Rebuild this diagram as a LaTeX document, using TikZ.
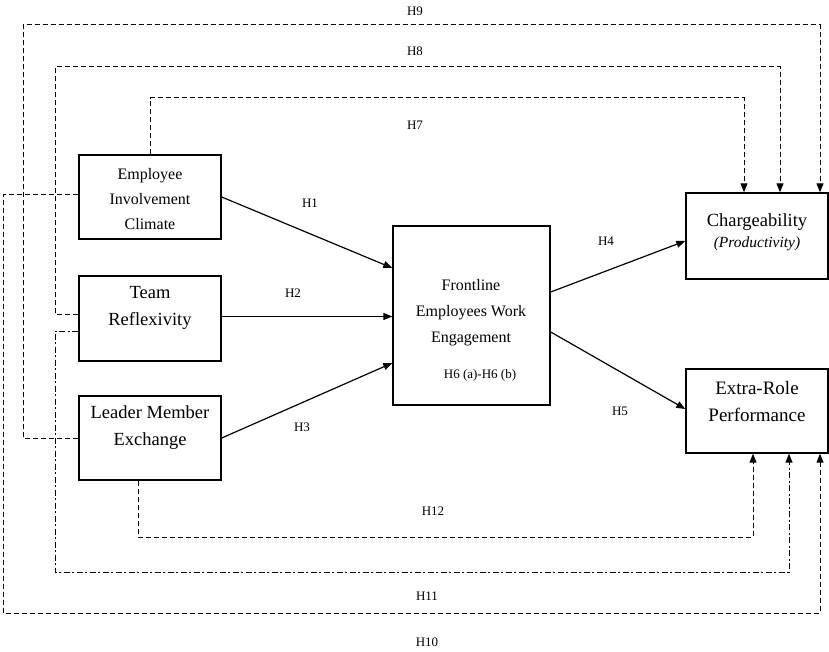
\documentclass[tikz,border=0pt]{standalone}
\usepackage{fontspec}
\setmainfont{Liberation Serif}
\usetikzlibrary{arrows.meta}
\begin{document}
\begin{tikzpicture}[x=1pt,y=-1pt,
  box/.style={draw,line width=1.4pt,minimum width=142pt,minimum height=84pt,inner sep=0pt},
  txt/.style={align=center,font=\fontsize{18.5}{27}\selectfont,inner sep=0pt},
  smalltxt/.style={align=center,font=\fontsize{16}{25}\selectfont,inner sep=0pt},
  hlab/.style={font=\fontsize{13}{15}\selectfont,inner sep=0pt},
  solidarrow/.style={line width=1.2pt,-{Triangle[length=9pt,width=7pt]}},
  dashline/.style={line width=1pt,dash pattern=on 5pt off 3pt,-{Triangle[length=9pt,width=7pt]}},
  dashdotline/.style={line width=1pt,dash pattern=on 6pt off 2.5pt on 2pt off 2.5pt,-{Triangle[length=9pt,width=7pt]}}]
\useasboundingbox (0,0) rectangle (829,652);

% boxes
\node[box] (eic) at (150,197) {};
\node[box,minimum height=85pt] (tr) at (150,318.5) {};
\node[box] (lmx) at (150,438) {};
\node[box,minimum width=157pt,minimum height=179pt] (fewe) at (471.5,315.5) {};
\node[box,minimum height=86pt] (charg) at (757,236) {};
\node[box] (erp) at (757,411) {};

% box texts
\node[smalltxt] (eict) at (150,199) {Employee\\Involvement\\Climate};
\node[txt] (trt) at (150,308) {Team\\Reflexivity};
\node[txt] (lmxt) at (150,428) {Leader Member\\Exchange};
\node[smalltxt,font=\fontsize{16}{26}\selectfont] (fewet) at (471,313) {Frontline\\Employees Work\\Engagement};
\node[txt] (chargt) at (757,222) {Chargeability};
\node[font=\fontsize{15.5}{17}\selectfont\itshape,inner sep=0pt] (prodt) at (757,244) {(Productivity)};
\node[txt,font=\fontsize{19}{27}\selectfont] (erpt) at (757,401) {Extra-Role\\Performance};

% solid arrows
\draw[solidarrow] (eic.east) -- ([yshift=47.5pt]fewe.west);
\draw[solidarrow] ([yshift=2pt]tr.east) -- ([yshift=2pt]tr.east -| fewe.west);
\draw[solidarrow] (lmx.east) -- ([yshift=-47.5pt]fewe.west);
\draw[solidarrow] ([yshift=23.5pt]fewe.east) -- ([yshift=-5pt]charg.west);
\draw[solidarrow] ([yshift=-16.5pt]fewe.east) -- ([yshift=2pt]erp.west);

% corner coordinates
\coordinate (c7) at (150,98);
\coordinate (c8a) at (55,314);
\coordinate (c8b) at (55,67);
\coordinate (c9a) at (23,438);
\coordinate (c9b) at (23,25);
\coordinate (c10a) at (3,195);
\coordinate (c10b) at (3,613);
\coordinate (c11a) at (55,331);
\coordinate (c11b) at (55,572);
\coordinate (c12) at (138,537);

% dashed paths to Chargeability
\draw[dashline] (eic.north) -- (c7) -| ([xshift=-13pt]charg.north);
\draw[dashline] ([yshift=4.5pt]tr.west) -- (c8a) -- (c8b) -| ([xshift=23pt]charg.north);
\draw[dashline] (lmx.west) -- (c9a) -- (c9b) -| ([xshift=63pt]charg.north);

% dashed paths to Extra-Role Performance
\draw[dashline] ([yshift=2pt]eic.west) -- (c10a) -- (c10b) -| ([xshift=63pt]erp.south);
\draw[dashdotline] ([yshift=-12.5pt]tr.west) -- (c11a) -- (c11b) -| ([xshift=32pt]erp.south);
\draw[dashline] ([xshift=-12pt]lmx.south) -- (c12) -| ([xshift=-4pt]erp.south);

% hypothesis labels
\node[hlab] (h1) at (310,203) {H1};
\node[hlab] (h2) at (293,293) {H2};
\node[hlab] (h3) at (302,427) {H3};
\node[hlab] (h4) at (606,241) {H4};
\node[hlab] (h5) at (620,411) {H5};
\node[hlab] (h6) at (480,375) {H6 (a)-H6 (b)};
\node[hlab] (h7) at (415,125) {H7};
\node[hlab] (h8) at (415,51) {H8};
\node[hlab] (h9) at (415,11) {H9};
\node[hlab] (h10) at (427,642) {H10};
\node[hlab] (h11) at (427,596) {H11};
\node[hlab] (h12) at (433,511) {H12};
\end{tikzpicture}
\end{document}
